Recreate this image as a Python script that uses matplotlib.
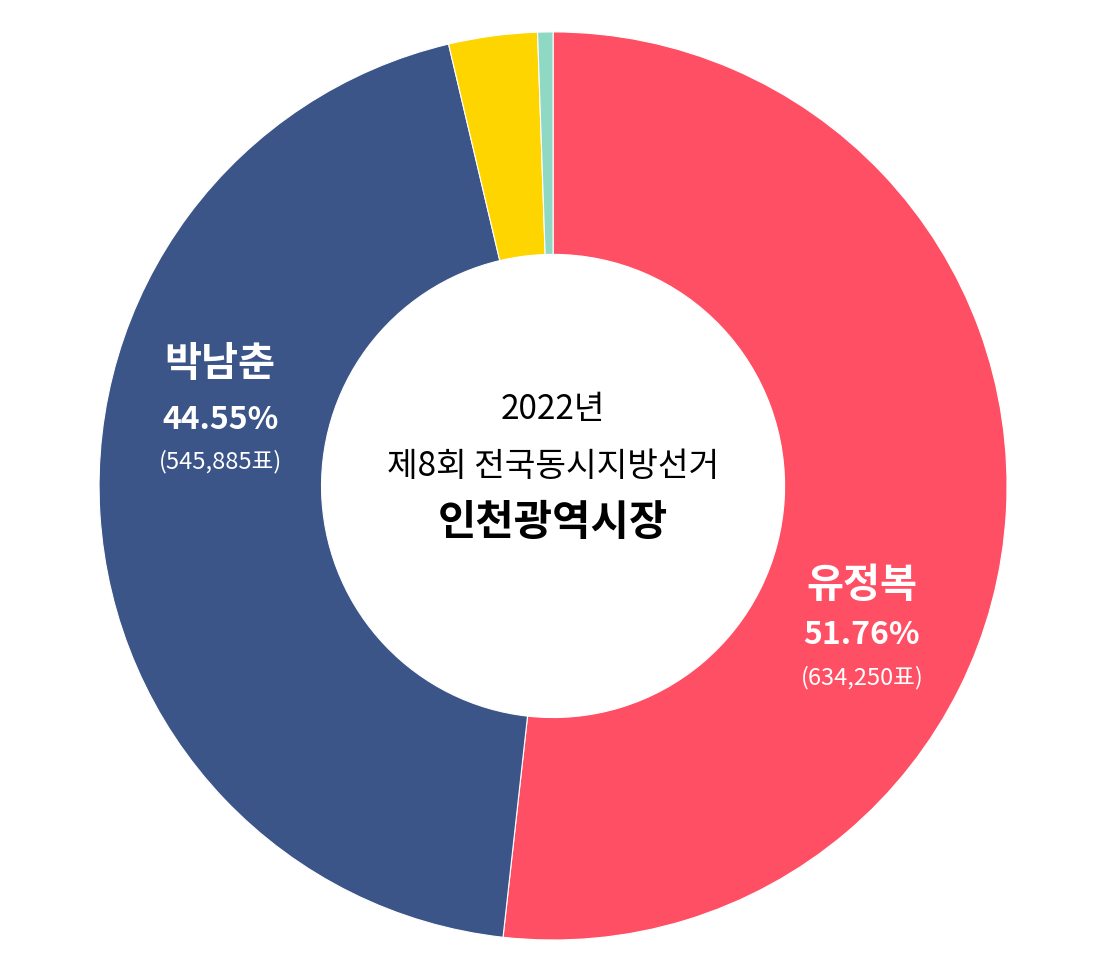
import matplotlib
matplotlib.use("Agg")
import matplotlib.pyplot as plt

plt.rcParams['font.family'] = ['Noto Sans CJK KR', 'DejaVu Sans']

# 2022 인천광역시장 선거 결과
names = ["유정복", "박남춘", "이정미", "김한별"]
votes = [634250, 545885, 38636, 6658]
pcts = [51.76, 44.55, 3.15, 0.54]
colors = ["#FF4F64", "#3C5589", "#FFD500", "#8FD9C4"]

fig = plt.figure(figsize=(11.08, 9.62), dpi=100)
ax = fig.add_axes([0.0894, 0.0218, 0.8195, 0.944])
ax.pie(votes, colors=colors, startangle=90, counterclock=False,
       radius=1.0, wedgeprops=dict(width=0.49, edgecolor="white", linewidth=0.8))
ax.set_xlim(-1, 1)
ax.set_ylim(-1, 1)
ax.set_aspect("auto")
ax.axis("off")

# 후보 라벨
ax.text(-0.733, 0.269, names[1], ha="center", va="center", color="white",
        fontsize=29, fontweight="bold")
ax.text(-0.733, 0.148, f"{pcts[1]:.2f}%", ha="center", va="center", color="white",
        fontsize=23, fontweight="bold")
ax.text(-0.733, 0.055, f"({votes[1]:,}표)", ha="center", va="center", color="white",
        fontsize=17)

ax.text(0.68, -0.216, names[0], ha="center", va="center", color="white",
        fontsize=29, fontweight="bold")
ax.text(0.68, -0.326, f"{pcts[0]:.2f}%", ha="center", va="center", color="white",
        fontsize=23, fontweight="bold")
ax.text(0.68, -0.42, f"({votes[0]:,}표)", ha="center", va="center", color="white",
        fontsize=17)

# 가운데 제목
ax.text(0, 0.17, "2022년", ha="center", va="center", fontsize=24)
ax.text(0, 0.046, "제8회 전국동시지방선거", ha="center", va="center", fontsize=24)
ax.text(0, -0.079, "인천광역시장", ha="center", va="center", fontsize=30,
        fontweight="bold")

fig.savefig("out.png", dpi=100, facecolor="white")
